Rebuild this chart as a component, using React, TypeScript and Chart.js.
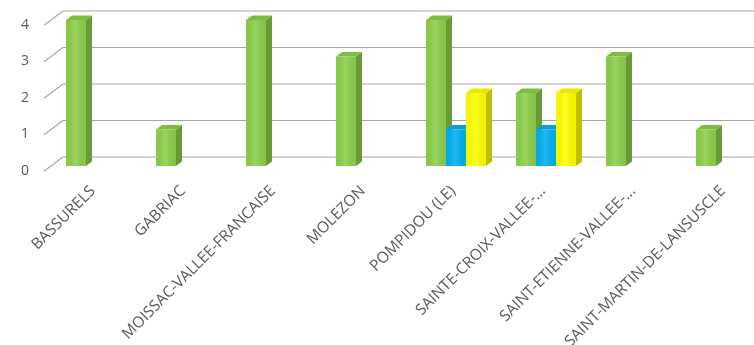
import React, { useEffect, useRef } from 'react';
import { Chart, registerables } from 'chart.js';
Chart.register(...registerables);

const categories = [
  'BASSURELS',
  'GABRIAC',
  'MOISSAC-VALLEE-FRANCAISE',
  'MOLEZON',
  'POMPIDOU (LE)',
  'SAINTE-CROIX-VALLEE-...',
  'SAINT-ETIENNE-VALLEE-...',
  'SAINT-MARTIN-DE-LANSUSCLE',
];
const greenValues = [4, 1, 4, 3, 4, 2, 3, 1];
const blueValues = [null, null, null, null, 1, 1, null, null];
const yellowValues = [null, null, null, null, 2, 2, null, null];
const yTicks = [0, 1, 2, 3, 4];

const FRONT = ['#8DCF4B', '#00B0F0', '#FFFF00'];
const TOP = ['#80BC43', '#0A9ED6', '#E8E800'];
const SIDE = ['#689A36', '#0A80B2', '#BFBF00'];

const WALL_DX = 12;
const WALL_DY = 9;
const BAR_DX = 6;
const BAR_DY = 4.5;

const depthPlugin = {
  id: 'depth3d',
  beforeDatasetsDraw(chart: any) {
    const ctx = chart.ctx;
    const yS = chart.scales.y;
    const area = chart.chartArea;
    ctx.save();
    ctx.strokeStyle = '#A6A6A6';
    ctx.lineWidth = 1.2;
    for (const v of yTicks) {
      const y = yS.getPixelForValue(v);
      ctx.beginPath();
      ctx.moveTo(area.left + WALL_DX, y - WALL_DY);
      ctx.lineTo(chart.width, y - WALL_DY);
      ctx.moveTo(area.left - 7, y + 5.2);
      ctx.lineTo(area.left + WALL_DX, y - WALL_DY);
      ctx.stroke();
    }
    const n = categories.length;
    for (let i = 0; i < n; i++) {
      for (let d = 0; d < chart.data.datasets.length; d++) {
        const val = chart.data.datasets[d].data[i];
        if (val === null || val === undefined) continue;
        const el = chart.getDatasetMeta(d).data[i];
        if (!el) continue;
        const p = el.getProps(['x', 'y', 'base', 'width'], true);
        const l = p.x - p.width / 2;
        const r = p.x + p.width / 2;
        ctx.fillStyle = SIDE[d];
        ctx.beginPath();
        ctx.moveTo(r, p.y);
        ctx.lineTo(r + BAR_DX, p.y - BAR_DY);
        ctx.lineTo(r + BAR_DX, p.base - BAR_DY);
        ctx.lineTo(r, p.base);
        ctx.closePath();
        ctx.fill();
        ctx.fillStyle = TOP[d];
        ctx.beginPath();
        ctx.moveTo(l, p.y);
        ctx.lineTo(r, p.y);
        ctx.lineTo(r + BAR_DX, p.y - BAR_DY);
        ctx.lineTo(l + BAR_DX, p.y - BAR_DY);
        ctx.closePath();
        ctx.fill();
      }
    }
    ctx.restore();
  },
  afterDatasetsDraw(chart: any) {
    const ctx = chart.ctx;
    ctx.save();
    for (let d = 0; d < chart.data.datasets.length; d++) {
      const meta = chart.getDatasetMeta(d);
      meta.data.forEach((el: any, i: number) => {
        const val = chart.data.datasets[d].data[i];
        if (val === null || val === undefined) return;
        const p = el.getProps(['x', 'y', 'base', 'width'], true);
        const l = p.x - p.width / 2;
        const g = ctx.createLinearGradient(l, 0, l + p.width, 0);
        g.addColorStop(0, 'rgba(0,0,0,0.03)');
        g.addColorStop(0.45, 'rgba(255,255,255,0.12)');
        g.addColorStop(1, 'rgba(0,0,0,0.05)');
        ctx.fillStyle = g;
        ctx.fillRect(l, p.y, p.width, p.base - p.y);
      });
    }
    ctx.restore();
  },
};

export default function App() {
  const ref = useRef<HTMLCanvasElement>(null);
  useEffect(() => {
    const chart = new Chart(ref.current as HTMLCanvasElement, {
      type: 'bar',
      data: {
        labels: categories,
        datasets: [
          { data: greenValues as any, backgroundColor: FRONT[0] },
          { data: blueValues as any, backgroundColor: FRONT[1] },
          { data: yellowValues as any, backgroundColor: FRONT[2] },
        ],
      },
      options: {
        responsive: false,
        animation: false,
        devicePixelRatio: 1,
        layout: { padding: { left: 0, right: 9, top: 20, bottom: 0 } },
        plugins: { legend: { display: false }, tooltip: { enabled: false } },
        datasets: { bar: { barPercentage: 1, categoryPercentage: 60 / 90 } },
        scales: {
          x: {
            grid: { display: false, drawTicks: false, tickLength: 0 },
            border: { display: false },
            ticks: {
              autoSkip: false,
              maxRotation: 45,
              minRotation: 45,
              padding: 16,
              labelOffset: -3,
              color: '#595959',
              font: { family: 'Open Sans', size: 15.5 },
            },
            afterFit: (s: any) => {
              s.height = 179;
              s.paddingLeft = 0;
              s.paddingRight = 0;
            },
          },
          y: {
            min: 0,
            max: 4,
            grid: { display: false, drawTicks: false, tickLength: 0 },
            border: { display: false },
            ticks: {
              stepSize: 1,
              padding: 22,
              labelOffset: 5,
              color: '#595959',
              font: { family: 'Open Sans', size: 14 },
            },
            afterFit: (s: any) => {
              s.width = 51;
              s.paddingTop = 0;
              s.paddingBottom = 0;
            },
          },
        },
      },
      plugins: [depthPlugin],
    });
    return () => chart.destroy();
  }, []);
  return (
    <div
      style={{
        position: 'fixed',
        left: 0,
        top: 0,
        width: 754,
        height: 345,
        overflow: 'hidden',
        background: '#fff',
      }}
    >
      <canvas ref={ref} width={780} height={345} style={{ display: 'block' }} />
    </div>
  );
}
